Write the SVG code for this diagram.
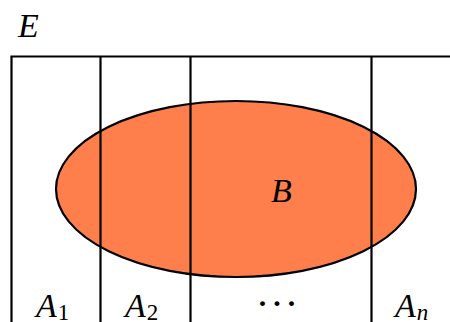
<svg xmlns="http://www.w3.org/2000/svg" width="450" height="322" viewBox="0 0 450 322">
<style>
.ln{stroke:#000;stroke-width:2.2;fill:none}
.t{font-family:"Liberation Serif","DejaVu Serif",serif;font-style:italic;font-size:34px;fill:#000}
.sub{font-size:23px}
.s{font-family:"Liberation Serif","DejaVu Serif",serif;fill:#000}
</style>
<rect width="450" height="322" fill="#fff"/>
<g id="B">
<ellipse cx="236" cy="189" rx="180" ry="88" fill="#FF7F4C" stroke="#000" stroke-width="2.2"/>
<text class="t" x="271" y="202">B</text>
</g>
<g id="E">
<path class="ln" d="M11.5,324 V56.5 H452"/>
<text class="t" x="18" y="37">E</text>
</g>
<g id="partition">
<path class="ln" d="M100.5,56.5 V324 M190.5,56.5 V324 M371.5,56.5 V324"/>
</g>
<g id="A1"><text class="t" x="36" y="317">A<tspan class="sub" font-style="normal" dx="1" dy="3">1</tspan></text></g>
<g id="A2"><text class="t" x="125" y="317">A<tspan class="sub" font-style="normal" dx="1" dy="3">2</tspan></text></g>
<g id="dots"><text class="s" x="258.8 273.3 287.8" y="306" font-size="30" font-weight="bold">...</text></g>
<g id="An"><text class="t" x="395" y="317">A<tspan class="sub" dx="1" dy="3">n</tspan></text></g>
</svg>
